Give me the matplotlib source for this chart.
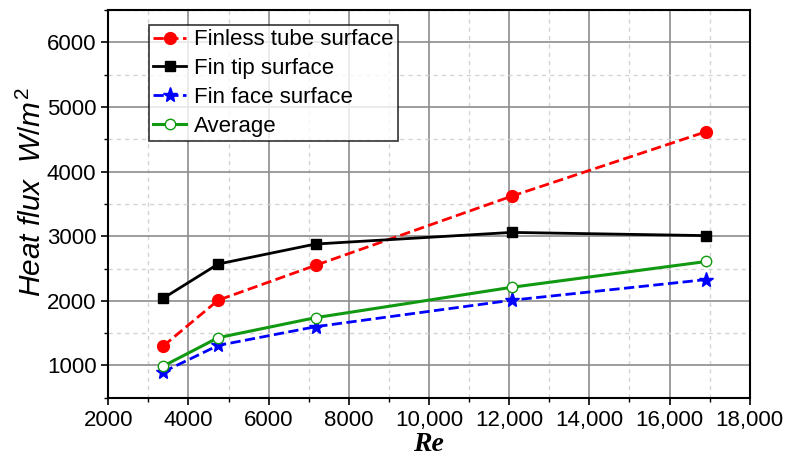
import matplotlib
matplotlib.use("Agg")
import matplotlib.pyplot as plt
from matplotlib.ticker import MultipleLocator, FuncFormatter

plt.rcParams['font.family'] = ['Liberation Sans', 'DejaVu Sans']
plt.rcParams['mathtext.fontset'] = 'custom'
plt.rcParams['mathtext.it'] = 'Liberation Sans:italic'
plt.rcParams['mathtext.rm'] = 'Liberation Sans'

# Reynolds numbers and heat flux on each surface (W/m^2)
re = [3370, 4740, 7170, 12060, 16920]
finless_tube = [1300, 2010, 2550, 3620, 4620]
fin_tip = [2040, 2570, 2880, 3060, 3010]
fin_face = [900, 1310, 1600, 2010, 2330]
average = [990, 1430, 1740, 2210, 2610]

fig = plt.figure(figsize=(7.9, 4.62), dpi=100)
ax = fig.add_axes([0.137, 0.139, 0.812, 0.839])

ax.plot(re, finless_tube, '--', color='red', lw=2, marker='o', ms=8.5,
        label='Finless tube surface')
ax.plot(re, fin_tip, '-', color='black', lw=2, marker='s', ms=7.5,
        label='Fin tip surface')
ax.plot(re, fin_face, '--', color='blue', lw=2, marker='*', ms=11,
        label='Fin face surface')
ax.plot(re, average, '-', color='#119911', lw=2.2, marker='o', ms=7.5,
        mfc='white', mec='#119911', mew=1, label='Average')

ax.set_xlim(2000, 18000)
ax.set_ylim(500, 6500)
ax.xaxis.set_major_locator(MultipleLocator(2000))
ax.xaxis.set_minor_locator(MultipleLocator(1000))
ax.yaxis.set_major_locator(MultipleLocator(1000))
ax.yaxis.set_minor_locator(MultipleLocator(500))
ax.yaxis.set_major_formatter(FuncFormatter(lambda v, p: f"{int(v)}"))
ax.xaxis.set_major_formatter(
    FuncFormatter(lambda v, p: f"{int(v):,}" if v >= 10000 else f"{int(v)}"))

ax.grid(which='major', color='#8c8c8c', lw=1.2, ls='-')
ax.grid(which='minor', color='#d4d4d4', lw=1, ls=(0, (3, 3)))
ax.set_axisbelow(True)

ax.tick_params(which='major', direction='out', length=5, width=1.2,
               labelsize=16)
ax.tick_params(which='minor', direction='out', length=3, width=1)
for sp in ax.spines.values():
    sp.set_linewidth(1.5)

ax.set_xlabel('Re', fontsize=20, fontweight='bold', style='italic',
              family='Liberation Serif', labelpad=1)
ax.set_ylabel(r'Heat flux  $W/m^2$', fontsize=21.5, style='italic')
ax.yaxis.set_label_coords(-0.095, 0.53)

leg = ax.legend(loc='upper left', bbox_to_anchor=(0.063, 0.962), fontsize=16,
                frameon=True, fancybox=False, edgecolor='black',
                handlelength=1.5, handletextpad=0.35, labelspacing=0.35,
                borderpad=0.2, borderaxespad=0)
leg.get_frame().set_linewidth(1.2)

fig.savefig('out.png', dpi=100)
